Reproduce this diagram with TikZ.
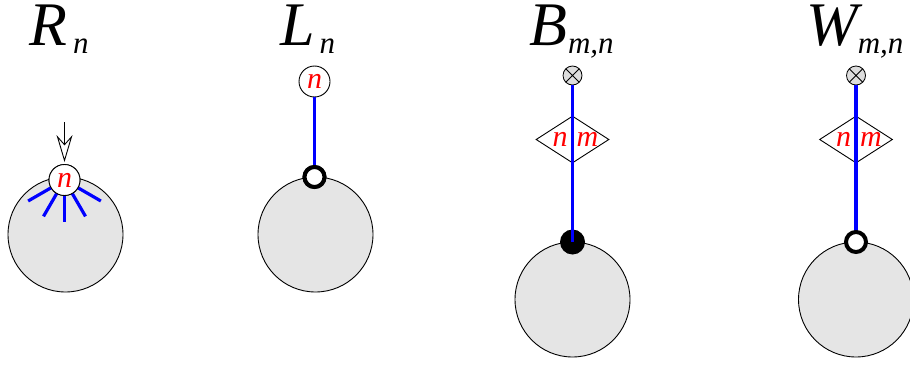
\documentclass[tikz,border=0pt]{standalone}
\usepackage{fontspec}
\setmainfont{Liberation Serif}
\newfontfamily\serifit{Liberation Serif Italic}
\usetikzlibrary{shapes.geometric,arrows.meta,calc}
\definecolor{discgray}{RGB}{229,229,229}
\definecolor{otgray}{RGB}{221,221,221}
\newcommand{\bigtitle}[3]{{\serifit\fontsize{62}{62}\selectfont #1\kern#3\raisebox{-9pt}{\fontsize{31}{31}\selectfont #2}}}
\begin{document}
\begin{tikzpicture}[x=1pt,y=-1pt,
  disc/.style={circle,draw=black,line width=0.9pt,fill=discgray,minimum size=115pt,inner sep=0pt},
  lab/.style={circle,draw=black,line width=0.9pt,fill=white,minimum size=31pt,inner sep=0pt,text=red,font=\serifit\fontsize{30}{30}\selectfont},
  ring/.style={circle,draw=black,line width=4pt,fill=white,minimum size=20pt,inner sep=0pt},
  blackdot/.style={circle,fill=black,minimum size=25pt,inner sep=0pt},
  otimesnode/.style={circle,draw=black,line width=0.8pt,fill=otgray,minimum size=19pt,inner sep=0pt,
     path picture={\draw[line width=0.8pt] (path picture bounding box.north west)--(path picture bounding box.south east)
       (path picture bounding box.north east)--(path picture bounding box.south west);}},
  dia/.style={diamond,draw=black,line width=0.9pt,fill=white,minimum width=73pt,minimum height=47pt,inner sep=0pt,aspect=1.55},
  diatext/.style={text=red,font=\serifit\fontsize{30}{30}\selectfont,inner sep=0pt},
  bluewire/.style={draw=blue,line width=3.2pt},
  title/.style={anchor=base west,inner sep=0pt}
]
\useasboundingbox (0,0) rectangle (910,364);
% titles
\node[title] (tR) at (29,45) {\bigtitle{R}{n}{6pt}};
\node[title] (tL) at (280,45) {\bigtitle{L}{n}{5pt}};
\node[title] (tB) at (529,45) {\bigtitle{B}{m,n}{1pt}};
\node[title] (tW) at (806,45) {\bigtitle{W}{m,n}{0pt}};

% R panel
\node[disc] (dR) at (65.5,234.5) {};
\coordinate (aR) at (64.5,122);
\node[lab] (nR) at (64.5,180) {};
\foreach \a in {-150,-120,-90,-60,-30}{
  \draw[bluewire] (nR.center) -- ($(nR.center)+(\a:42pt)$);
}
\node[lab] (nR2) at (64.5,180) {n};
\draw[line width=0.9pt,-{Stealth[open,fill=white,length=27pt,width=16pt,inset=9pt]}] (aR) -- ($(nR2.north)+(0,-2)$);

% L panel
\node[disc] (dL) at (315.5,234.5) {};
\node[lab] (nL) at (314.5,81.5) {n};
\node[ring] (rL) at (314.5,177) {};
\draw[bluewire] (nL.south) -- (rL.north);
\node[ring] at (314.5,177) {};

% B panel
\node[disc] (dB) at (572.5,299.5) {};
\node[otimesnode] (oB) at (572.5,75.5) {};
\node[dia] (mB) at (572.5,139.5) {};
\node[blackdot] (bB) at (572.5,242) {};
\draw[bluewire] (oB.south) -- (bB.center);
\node[diatext] (tmB) at (575.5,139.5) {n\hspace{9pt}m};

% W panel
\node[disc] (dW) at (856,299.5) {};
\node[otimesnode] (oW) at (856,75.5) {};
\node[dia] (mW) at (856,139.5) {};
\draw[bluewire] (oW.south) -- (856,242);
\node[ring] (rW) at (856,242) {};
\node[diatext] (tmW) at (859,139.5) {n\hspace{9pt}m};
\end{tikzpicture}
\end{document}
